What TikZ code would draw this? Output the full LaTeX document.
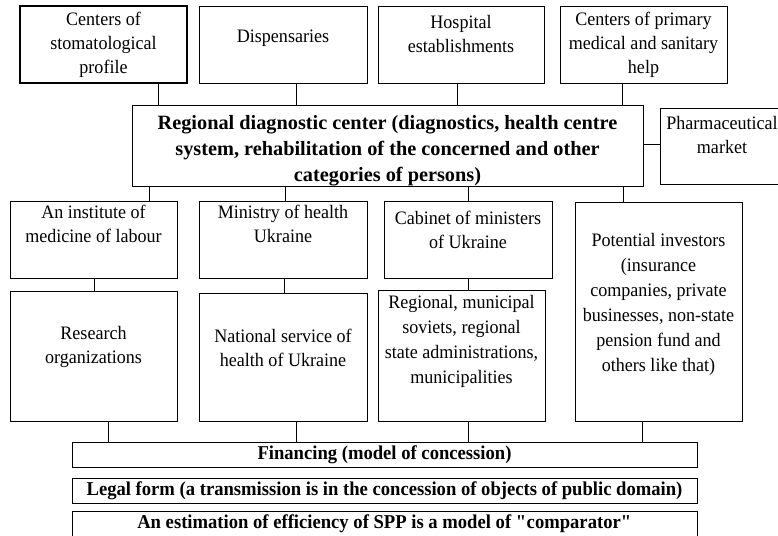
\documentclass[tikz,border=0pt]{standalone}
\usepackage{fontspec}
\setmainfont{Liberation Serif}[FakeStretch=0.95]
\newfontfamily\centrefont{Liberation Serif}
\tikzset{
  box/.style={draw, line width=0.9pt, inner sep=0pt, align=center,
    font=\fontsize{19}{24}\selectfont},
  boldbox/.style={box, font=\centrefont\fontsize{20.3}{26}\selectfont\bfseries},
  barbox/.style={box, minimum width=625pt, font=\fontsize{19.6}{22}\selectfont\bfseries},
  link/.style={line width=0.9pt}
}
\begin{document}
\begin{tikzpicture}[x=1pt,y=-1pt]
    \useasboundingbox (0,0) rectangle (778,535);
    % upper row
    \node[box, line width=1.4pt, minimum width=167pt, minimum height=77pt] (stom) at (103.5,44.5) {Centers of\\stomatological\\profile};
    \node[box, minimum width=168pt, minimum height=77pt] (disp) at (283,44.5) {Dispensaries\\[-14pt]\strut};
    \node[box, minimum width=166pt, minimum height=77pt] (hosp) at (461,44.5) {Hospital\\establishments\\[-11pt]\strut};
    \node[box, minimum width=167pt, minimum height=77pt] (prim) at (643.5,44.5) {Centers of primary\\medical and sanitary\\help};
    % regional center
    \node[boldbox, minimum width=511pt, minimum height=76pt] (rdc) at (387.5,146) {\strut\\[-20pt]Regional diagnostic center (diagnostics, health centre\\system, rehabilitation of the concerned and other\\categories of persons)};
    \node[box, minimum width=124pt, minimum height=76pt] (pharm) at (722,146) {Pharmaceutical\\market\\[-10pt]\strut};
    % second row
    \node[box, minimum width=167pt, minimum height=77pt] (inst) at (93.5,239.5) {An institute of\\medicine of labour\\\strut};
    \node[box, minimum width=168pt, minimum height=77pt] (mini) at (283,239.5) {Ministry of health\\Ukraine\\\strut};
    \node[box, minimum width=168pt, minimum height=77pt] (cab) at (468,239.5) {Cabinet of ministers\\of Ukraine\\[-12pt]\strut};
    \node[box, minimum width=167pt, minimum height=219pt, font=\fontsize{19}{25}\selectfont] (inv) at (658.5,311.5) {Potential investors\\(insurance\\companies, private\\businesses, non-state\\pension fund and\\others like that)\\[-14pt]\strut};
    % third row
    \node[box, minimum width=167pt, minimum height=130pt] (res) at (93.5,356) {Research\\organizations\\[-10pt]\strut};
    \node[box, minimum width=168pt, minimum height=128pt] (nat) at (283,357) {National service of\\health of Ukraine\\[-12pt]\strut};
    \node[box, minimum width=167pt, minimum height=131pt, font=\fontsize{19}{25}\selectfont] (reg) at (461.5,355.5) {Regional, municipal\\soviets, regional\\state administrations,\\municipalities\\\strut};
    % bars
    \node[barbox, minimum height=25pt] (fin) at (384.5,454.5) {Financing (model of concession)};
    \node[barbox, minimum height=25pt] (leg) at (384.5,490.5) {Legal form (a transmission is in the concession of objects of public domain)};
    \node[barbox, minimum height=26pt] (est) at (384.5,524) {An estimation of efficiency of SPP is a model of \textquotedbl comparator\textquotedbl};
    % links
    \draw[link] (158,0 |- stom.south) -- (158,0 |- rdc.north);
    \draw[link] (296,0 |- disp.south) -- (296,0 |- rdc.north);
    \draw[link] (457,0 |- hosp.south) -- (457,0 |- rdc.north);
    \draw[link] (622,0 |- prim.south) -- (622,0 |- rdc.north);
    \draw[link] (rdc.east |- 0,144) -- (pharm.west |- 0,144);
    \draw[link] (149,0 |- rdc.south) -- (149,0 |- inst.north);
    \draw[link] (285,0 |- rdc.south) -- (285,0 |- mini.north);
    \draw[link] (468,0 |- rdc.south) -- (468,0 |- cab.north);
    \draw[link] (623,0 |- rdc.south) -- (623,0 |- inv.north);
    \draw[link] (94,0 |- inst.south) -- (94,0 |- res.north);
    \draw[link] (284,0 |- mini.south) -- (284,0 |- nat.north);
    \draw[link] (468,0 |- cab.south) -- (468,0 |- reg.north);
    \draw[link] (108,0 |- res.south) -- (108,0 |- fin.north);
    \draw[link] (296,0 |- nat.south) -- (296,0 |- fin.north);
    \draw[link] (468,0 |- reg.south) -- (468,0 |- fin.north);
    \draw[link] (642,0 |- inv.south) -- (642,0 |- fin.north);
\end{tikzpicture}
\end{document}
